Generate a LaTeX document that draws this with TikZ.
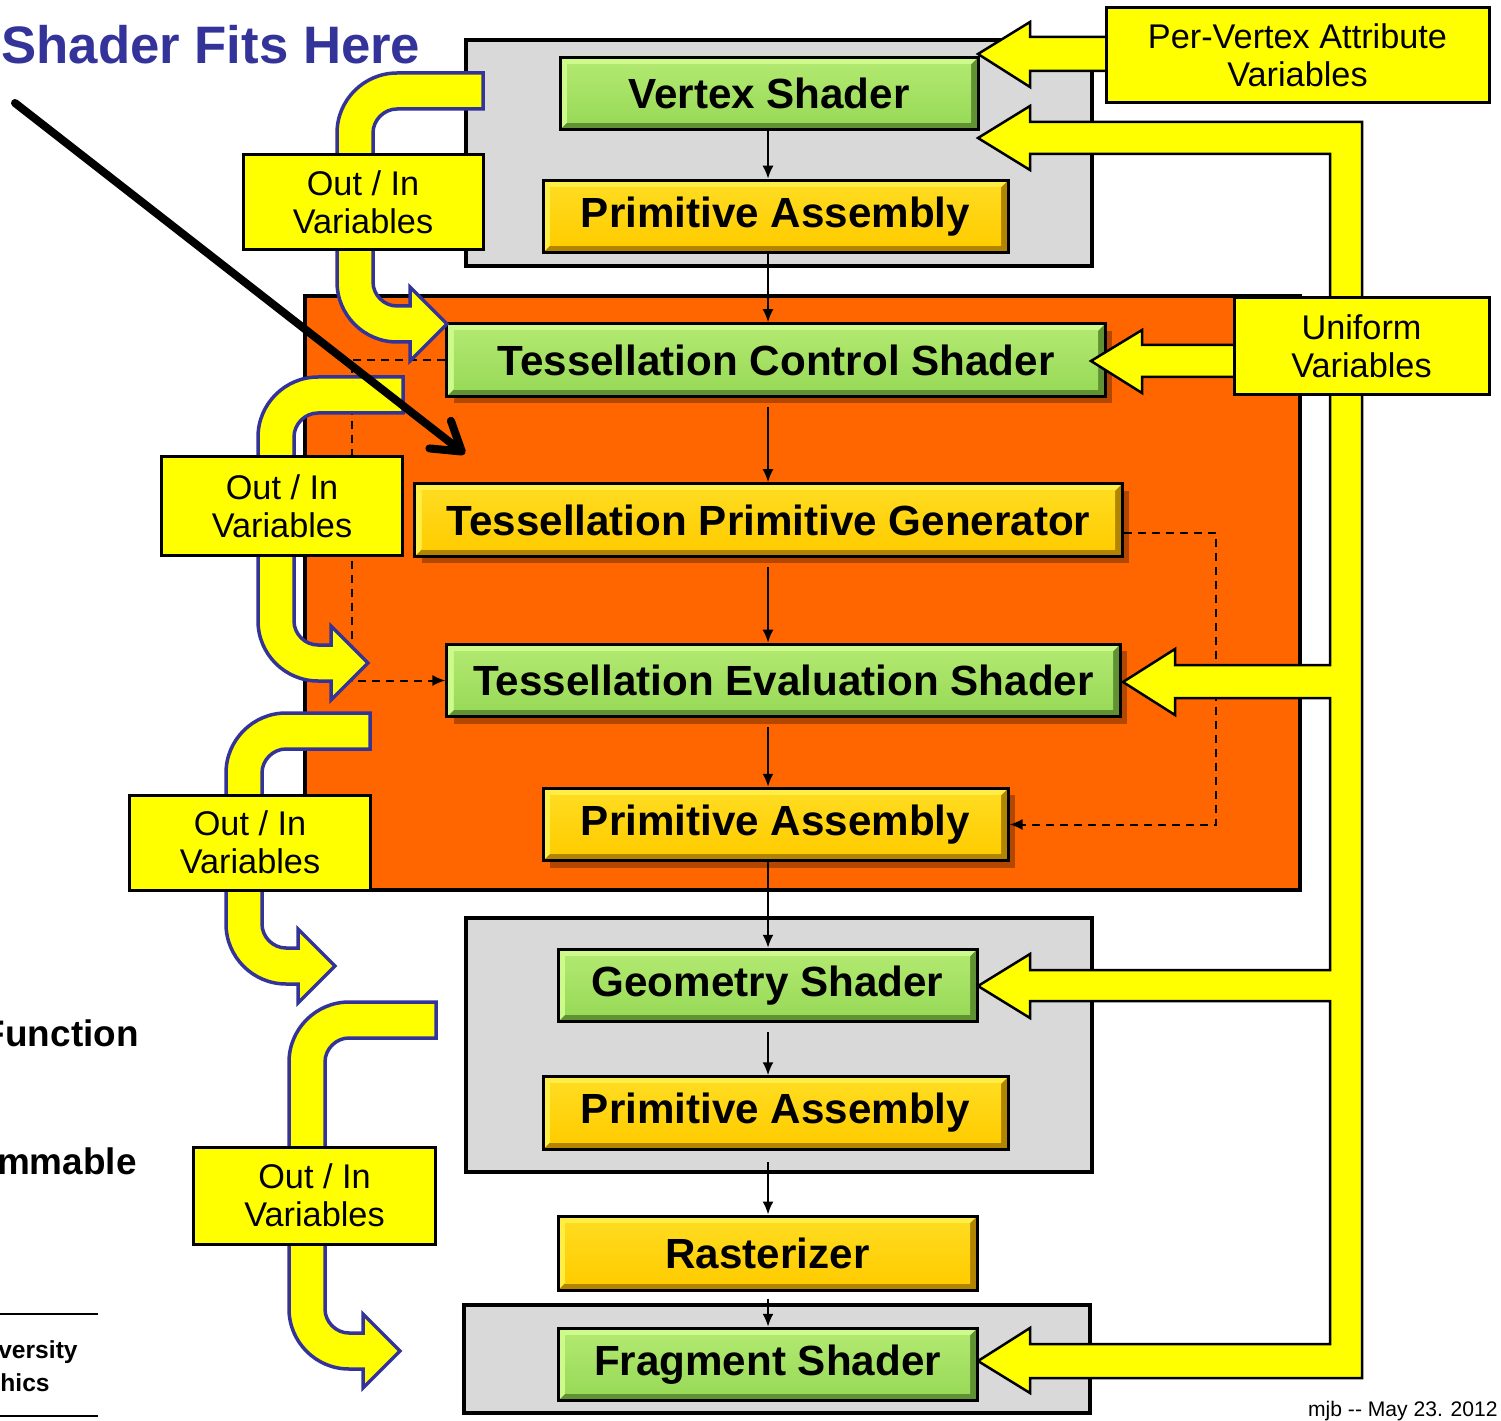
\documentclass[tikz,border=0pt]{standalone}
\usepackage{fontspec}
\setmainfont{Liberation Sans}
\usetikzlibrary{arrows.meta, shadows}

\definecolor{shgreen}{RGB}{153,218,88}
\definecolor{shgreenhi}{RGB}{206,250,140}
\definecolor{shgreenlo}{RGB}{96,146,52}
\definecolor{gold}{RGB}{255,204,0}
\definecolor{goldhi}{RGB}{255,238,70}
\definecolor{goldlo}{RGB}{178,132,0}
\definecolor{tessorange}{RGB}{255,102,0}
\definecolor{panelgray}{RGB}{217,217,217}
\definecolor{varyellow}{RGB}{255,255,0}
\definecolor{ionavy}{RGB}{51,51,153}

\tikzset{
  panel/.style={draw=black, line width=0.7mm},
  stage/.style={draw=black, line width=0.6mm, inner sep=0pt, minimum height=14.5mm,
    font=\bfseries\fontsize{24}{28}\selectfont},
  bevel/.style n args={3}{fill=#3, path picture={
    \fill[#1] (path picture bounding box.south west) -- (path picture bounding box.north west)
      -- (path picture bounding box.north east) -- ([shift={(-1.4mm,-1.4mm)}]path picture bounding box.north east)
      -- ([shift={(1.4mm,-1.4mm)}]path picture bounding box.north west)
      -- ([shift={(1.4mm,1.4mm)}]path picture bounding box.south west) -- cycle;
    \shade[top color=#1!45!#2, bottom color=#2]
      ([shift={(1.4mm,1.4mm)}]path picture bounding box.south west)
      rectangle ([shift={(-1.4mm,-1.4mm)}]path picture bounding box.north east);
  }},
  shader/.style={stage, bevel={shgreenhi}{shgreen}{shgreenlo}},
  fixed/.style={stage, bevel={goldhi}{gold}{goldlo}},
  lifted/.style={drop shadow={shadow xshift=1.4mm, shadow yshift=-1.4mm, fill=black, opacity=0.3}},
  flow/.style={line width=0.4mm, -{Latex[length=2.6mm,width=2.2mm]}},
  dashflow/.style={flow, dash pattern=on 1.6mm off 1.2mm},
  varbox/.style={draw=black, line width=0.6mm, fill=varyellow, align=center, inner sep=0pt,
    font=\fontsize{19.5}{21.5}\selectfont},
  bus/.style={fill=varyellow, draw=black, line width=0.5mm},
  ioflow/.style={fill=varyellow, draw=ionavy, line width=0.7mm},
}

\newcommand{\ioarrow}[5]{%
  \draw[ioflow] (#3,#2) -- ({#1+60},#2)
    .. controls ({#1+27},#2) and (#1,{#2+27}) .. (#1,{#2+60})
    -- (#1,{#4-60})
    .. controls (#1,{#4-27}) and ({#1+27},#4) .. ({#1+60},#4)
    -- ({#5-37},#4) -- ({#5-37},{#4+19}) -- (#5,{#4-18}) -- ({#5-37},{#4-55}) -- ({#5-37},{#4-36})
    -- ({#1+60},{#4-36})
    .. controls ({#1+47},{#4-36}) and ({#1+36},{#4-47}) .. ({#1+36},{#4-60})
    -- ({#1+36},{#2+60})
    .. controls ({#1+36},{#2+47}) and ({#1+47},{#2+36}) .. ({#1+60},{#2+36})
    -- (#3,{#2+36}) -- cycle;
}

\begin{document}
\begin{tikzpicture}[x=0.2mm, y=-0.2mm]
\useasboundingbox (0,0) rectangle (1501,1421);

\draw[panel, fill=panelgray] (466,40) rectangle (1092,266);
\draw[panel, fill=tessorange] (305,296) rectangle (1300,890);
\draw[panel, fill=panelgray] (466,918) rectangle (1092,1172);
\draw[panel, fill=panelgray] (464,1305) rectangle (1090,1413);

\node[shader, minimum width=83.6mm] (vs) at (769,93.5) {Vertex Shader};
\node[fixed, minimum width=93mm] (pa1) at (775.5,216.5) {Primitive Assembly};
\node[shader, lifted, minimum width=131.6mm] (tcs) at (776,360) {Tessellation Control Shader};
\node[fixed, lifted, minimum width=141.4mm] (tpg) at (768.5,520) {Tessellation Primitive Generator};
\node[shader, lifted, minimum width=134.6mm] (tes) at (783.5,680.5) {Tessellation Evaluation Shader};
\node[fixed, lifted, minimum width=93mm] (pa2) at (775.5,824.5) {Primitive Assembly};
\node[shader, minimum width=83.8mm] (gs) at (767.5,985.5) {Geometry Shader};
\node[fixed, minimum width=93mm] (pa3) at (775.5,1113) {Primitive Assembly};
\node[fixed, minimum width=83.8mm, minimum height=14.8mm] (rast) at (767.5,1253) {Rasterizer};
\node[shader, minimum width=83.8mm] (fs) at (767.5,1364.5) {Fragment Shader};

\coordinate (spine) at (768,0);
\coordinate (tap) at (352,0);
\coordinate (bend) at (1216,0);
\draw[flow] (spine |- vs.south) -- (spine |- pa1.north);
\draw[flow] (spine |- pa1.south) -- (spine |- tcs.north);
\draw[flow] (spine |- tcs.south) ++(0,9) -- (spine |- tpg.north);
\draw[flow] (spine |- tpg.south) ++(0,9) -- (spine |- tes.north);
\draw[flow] (spine |- tes.south) ++(0,9) -- (spine |- pa2.north);
\draw[flow] (spine |- pa2.south) -- (spine |- gs.north);
\draw[flow] (spine |- gs.south) ++(0,9) -- (spine |- pa3.north);
\draw[flow] (spine |- pa3.south) ++(0,11) -- (spine |- rast.north);
\draw[flow] (spine |- rast.south) ++(0,7) -- (spine |- fs.north);
\draw[dashflow] (tcs.west) -| (tap |- tes.west) -- (tes.west);
\draw[dashflow] ([shift={(0,13)}]tpg.east) -| (bend |- pa2.east) -- (pa2.east);

\draw[bus] (978,138) -- (1030,106) -- (1030,122) -- (1362,122) -- (1362,1378)
  -- (1030,1378) -- (1030,1393) -- (978,1361) -- (1030,1328) -- (1030,1344)
  -- (1330,1344) -- (1330,1001) -- (1030,1001) -- (1030,1018) -- (978,986)
  -- (1030,954) -- (1030,970) -- (1330,970) -- (1330,698) -- (1175,698)
  -- (1175,715) -- (1123,682) -- (1175,649) -- (1175,665) -- (1330,665)
  -- (1330,154) -- (1030,154) -- (1030,170) -- cycle;
\draw[bus] (1110,37) -- (1030,37) -- (1030,22) -- (978,54) -- (1030,87) -- (1030,71) -- (1110,71);
\draw[bus] (1238,345) -- (1142,345) -- (1142,330) -- (1091,361) -- (1142,393) -- (1142,377) -- (1238,377);
\node[varbox, minimum width=76.6mm, minimum height=19mm] (attrib) at (1297.5,55.5) {Per-Vertex Attribute\\Variables};
\node[varbox, minimum width=51mm, minimum height=19.4mm] (uniform) at (1361.5,346.5) {Uniform\\Variables};

\ioarrow{337}{73}{483}{342}{447}
\ioarrow{258}{377}{403}{681}{368}
\ioarrow{226}{713}{370}{984}{335}
\ioarrow{289}{1002}{436}{1369}{400}
\node[varbox, minimum width=48mm, minimum height=19mm] (io1) at (363,202.5) {Out / In\\Variables};
\node[varbox, minimum width=48mm, minimum height=19.6mm] (io2) at (282,506) {Out / In\\Variables};
\node[varbox, minimum width=48mm, minimum height=19mm] (io3) at (250,842.5) {Out / In\\Variables};
\node[varbox, minimum width=48.2mm, minimum height=19.4mm] (io4) at (314.5,1195.5) {Out / In\\Variables};

\node[anchor=base west, inner sep=0pt, text=ionavy, font=\bfseries\fontsize{30}{35}\selectfont] (title) at (1,64) {Shader Fits Here};
\coordinate (pointer) at (15,103);
\coordinate (aim) at (465,454);
\draw[line width=1.6mm, line cap=round, -{Straight Barb[length=5.5mm,width=7mm,round]}] (pointer) -- (aim);

\node[anchor=base east, inner sep=0pt, font=\bfseries\fontsize{21}{25}\selectfont] (fixedfn) at (139,1046) {Function};
\node[anchor=base east, inner sep=0pt, font=\bfseries\fontsize{21}{25}\selectfont] (progfn) at (137,1174) {mmable};
\draw[line width=0.4mm] (0,1314) -- (98,1314);
\draw[line width=0.4mm] (0,1416) -- (98,1416);
\node[anchor=base east, inner sep=0pt, font=\bfseries\fontsize{14}{16}\selectfont] (univ) at (78,1358) {versity};
\node[anchor=base east, inner sep=0pt, font=\bfseries\fontsize{14}{16}\selectfont] (dept) at (50,1391) {hics};
\node[anchor=base east, inner sep=0pt, font=\fontsize{12}{14}\selectfont] (stamp) at (1498,1416) {mjb -\kern0pt- May 23. 2012};
\end{tikzpicture}
\end{document}
